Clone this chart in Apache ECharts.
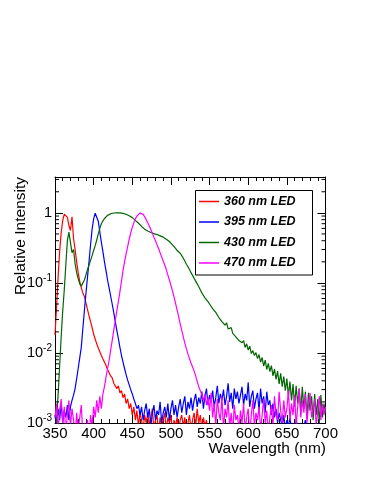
<!DOCTYPE html>
<html><head><meta charset="utf-8">
<script src="https://cdn.jsdelivr.net/npm/echarts@6/dist/echarts.min.js"></script>
<style>html,body{margin:0;padding:0;background:#fff}#c{width:374px;height:484px}</style>
</head><body><div id="c"></div>
<script>
const wavelengths = [
350,352,354,356,358,360,362,364,366,368,
370,372,374,376,378,380,382,384,386,388,
390,392,394,396,398,400,402,404,406,408,
410,412,414,416,418,420,422,424,426,428,
430,432,434,436,438,440,442,444,446,448,
450,452,454,456,458,460,462,464,466,468,
470,472,474,476,478,480,482,484,486,488,
490,492,494,496,498,500,502,504,506,508,
510,512,514,516,518,520,522,524,526,528,
530,532,534,536,538,540,542,544,546,548,
550,552,554,556,558,560,562,564,566,568,
570,572,574,576,578,580,582,584,586,588,
590,592,594,596,598,600,602,604,606,608,
610,612,614,616,618,620,622,624,626,628,
630,632,634,636,638,640,642,644,646,648,
650,652,654,656,658,660,662,664,666,668,
670,672,674,676,678,680,682,684,686,688,
690,692,694,696,698,700];

const int360 = [
0.018,0.045,0.12,0.28,0.52,0.78,0.96,1.0,0.86,0.66,
0.56,0.88,0.43,0.3,0.2,0.14,0.105,0.085,0.072,0.064,
0.052,0.042,0.034,0.028,0.023,0.0185,0.0158,0.0135,0.0118,0.0104,
0.0092,0.0082,0.0074,0.0066,0.0058,0.0056,0.0047,0.0044,0.0037,0.0039,
0.0031,0.0034,0.0027,0.0029,0.0023,0.0026,0.0019,0.0022,0.0016,0.0019,
0.0013,0.0017,0.0011,0.0015,0.0009,0.0014,0.0011,0.0008,0.0013,0.0010,
0.0014,0.0009,0.0012,0.0016,0.0008,0.0011,0.0013,0.0007,0.0012,0.0009,
0.0011,0.0014,0.0008,0.0012,0.0010,0.0013,0.0007,0.0011,0.0009,0.0012,
0.0008,0.0011,0.0013,0.0009,0.0012,0.0007,0.0010,0.0013,0.0008,0.0011,
0.0014,0.0009,0.0016,0.0010,0.0013,0.0008,0.0012,0.0009,0.0011,0.0007,
0.0009,0.0006,0.0010,0.0007,0.0005,0.0008,0.0006,0.0009,0.0005,0.0007,
0.0006,0.0008,0.0005,0.0009,0.0006,0.0004,0.0007,0.0005,0.0008,0.0006,
0.0005,0.0007,0.0004,0.0006,0.0008,0.0005,0.0006,0.0004,0.0007,0.0005,
0.0006,0.0004,0.0007,0.0005,0.0003,0.0006,0.0005,0.0007,0.0004,0.0006,
0.0005,0.0007,0.0004,0.0006,0.0005,0.0003,0.0006,0.0004,0.0005,0.0007,
0.0004,0.0006,0.0005,0.0003,0.0006,0.0004,0.0005,0.0007,0.0004,0.0005,
0.0006,0.0004,0.0005,0.0003,0.0006,0.0005,0.0004,0.0006,0.0003,0.0005,
0.0004,0.0006,0.0005,0.0003,0.0005,0.0004];

const int395 = [
0.0013,0.0009,0.0016,0.0011,0.0019,0.0010,0.0015,0.0012,0.0018,0.0011,
0.0017,0.0021,0.0025,0.0031,0.0043,0.006,0.0085,0.012,0.022,0.04,
0.07,0.12,0.2,0.35,0.58,0.82,0.99,0.95,0.76,0.53,
0.38,0.28,0.2,0.15,0.11,0.085,0.065,0.05,0.038,0.028,
0.021,0.016,0.012,0.0092,0.0074,0.006,0.0049,0.0041,0.0035,0.003,
0.0026,0.0022,0.0019,0.0016,0.0018,0.0013,0.0017,0.0011,0.0015,0.0019,
0.0012,0.0016,0.0009,0.0014,0.0018,0.0011,0.0015,0.0013,0.0020,0.0010,
0.0014,0.0017,0.0012,0.0019,0.0011,0.0016,0.0021,0.0013,0.0018,0.0012,
0.0017,0.0022,0.0014,0.0019,0.0024,0.0013,0.0020,0.0016,0.0023,0.0015,
0.0021,0.0026,0.0017,0.0023,0.0019,0.0028,0.0016,0.0024,0.0031,0.0018,
0.0025,0.0020,0.0029,0.0017,0.0023,0.0034,0.0019,0.0026,0.0021,0.0030,
0.0018,0.0024,0.0037,0.0020,0.0027,0.0016,0.0031,0.0022,0.0028,0.0019,
0.0025,0.0033,0.0018,0.0026,0.0021,0.0038,0.0017,0.0024,0.0029,0.0016,
0.0022,0.0027,0.0015,0.0031,0.0019,0.0024,0.0014,0.0028,0.0018,0.0021,
0.0013,0.0019,0.0012,0.0016,0.0010,0.0014,0.0011,0.0009,0.0013,0.0008,
0.0011,0.0009,0.0012,0.0008,0.0010,0.0007,0.0011,0.0009,0.0008,0.0010,
0.0007,0.0009,0.0011,0.0008,0.0006,0.0010,0.0008,0.0007,0.0009,0.0006,
0.0008,0.0010,0.0007,0.0009,0.0006,0.0008];

const int430 = [
0.0006,0.0011,0.0025,0.0065,0.017,0.04,0.08,0.18,0.4,0.53,
0.5,0.27,0.3,0.19,0.14,0.115,0.097,0.09,0.095,0.11,
0.13,0.155,0.18,0.21,0.245,0.29,0.34,0.41,0.5,0.6,
0.7,0.77,0.83,0.88,0.92,0.95,0.97,0.985,0.995,1.0,
1.0,1.0,1.0,0.995,0.985,0.97,0.955,0.935,0.91,0.885,
0.855,0.82,0.78,0.745,0.71,0.675,0.64,0.61,0.585,0.565,
0.55,0.54,0.525,0.515,0.505,0.495,0.49,0.48,0.47,0.46,
0.45,0.435,0.42,0.405,0.39,0.37,0.35,0.33,0.31,0.29,
0.28,0.265,0.245,0.225,0.205,0.185,0.17,0.155,0.14,0.128,
0.116,0.106,0.097,0.088,0.08,0.072,0.068,0.061,0.058,0.054,
0.05,0.047,0.043,0.041,0.038,0.036,0.032,0.031,0.028,0.029,
0.025,0.027,0.022,0.021,0.023,0.019,0.02,0.017,0.018,0.015,
0.016,0.014,0.015,0.012,0.0135,0.011,0.0125,0.0098,0.0108,0.0092,
0.0101,0.0083,0.0095,0.0074,0.0086,0.0065,0.0079,0.0058,0.0071,0.0054,
0.0066,0.0047,0.0059,0.0042,0.0055,0.0036,0.0051,0.0033,0.0046,0.0029,
0.0043,0.0024,0.0039,0.0021,0.0036,0.0017,0.0034,0.0019,0.0031,0.0014,
0.0033,0.0016,0.0028,0.0012,0.0027,0.0015,0.0024,0.0011,0.0026,0.0013,
0.0022,0.0010,0.0025,0.0012,0.0019,0.0014];

const int470 = [
0.0012,0.0019,0.0008,0.0015,0.0022,0.0010,0.0017,0.0007,0.0013,0.0021,
0.0009,0.0016,0.0011,0.0006,0.0014,0.0008,0.0012,0.0018,0.0007,0.0010,
0.0008,0.0011,0.0006,0.0013,0.0009,0.0017,0.0012,0.0021,0.0014,0.0024,
0.0016,0.0026,0.0033,0.0045,0.006,0.0078,0.011,0.015,0.021,0.029,
0.04,0.054,0.075,0.105,0.15,0.2,0.26,0.33,0.42,0.52,
0.62,0.72,0.82,0.9,0.96,0.995,0.99,0.95,0.88,0.8,
0.72,0.65,0.58,0.51,0.45,0.4,0.35,0.31,0.27,0.235,
0.205,0.18,0.155,0.13,0.11,0.092,0.077,0.063,0.051,0.041,
0.033,0.026,0.021,0.017,0.0138,0.0115,0.0097,0.0083,0.0072,0.0063,
0.0055,0.0047,0.0039,0.0033,0.0029,0.0025,0.0021,0.0026,0.0018,0.0023,
0.0015,0.0027,0.0012,0.0019,0.0009,0.0022,0.0014,0.0011,0.0024,0.0008,
0.0016,0.0012,0.0021,0.0009,0.0014,0.0007,0.0018,0.0011,0.0013,0.0008,
0.0015,0.0010,0.0019,0.0008,0.0012,0.0016,0.0007,0.0013,0.0021,0.0009,
0.0014,0.0011,0.0017,0.0008,0.0013,0.0022,0.0010,0.0015,0.0007,0.0012,
0.0018,0.0009,0.0024,0.0013,0.0011,0.0028,0.0015,0.0010,0.0021,0.0012,
0.0016,0.0029,0.0011,0.0019,0.0013,0.0025,0.0009,0.0017,0.0031,0.0012,
0.0021,0.0014,0.0026,0.0010,0.0018,0.0027,0.0012,0.0016,0.0022,0.0009,
0.0015,0.0024,0.0011,0.0019,0.0013,0.0017];

const seriesNames = ['360 nm LED', '395 nm LED', '430 nm LED', '470 nm LED'];
const seriesValues = [int360, int395, int430, int470];
const seriesColors = ['#ff0000', '#0000ff', '#006600', '#ff00ff'];
const xMin = 350, xMax = 700, xStep = 50;
const yMin = 0.001, yMax = 3.25;
const yMinorTicks = [0.002,0.003,0.004,0.005,0.006,0.007,0.008,0.009,
  0.02,0.03,0.04,0.05,0.06,0.07,0.08,0.09,
  0.2,0.3,0.4,0.5,0.6,0.7,0.8,0.9, 2, 3];

const FONT = 'Liberation Sans';
const chart = echarts.init(document.getElementById('c'), null, {renderer: 'canvas'});

function yLabel(v) {
  const l = Math.log10(v);
  const e = Math.round(l);
  if (Math.abs(l - e) > 1e-6) return '';
  return e === 0 ? '1' : '10{s|' + e + '}';
}

const lineSeries = seriesNames.map((name, k) => ({
  name: name,
  type: 'line',
  xAxisIndex: 0, yAxisIndex: 0,
  data: wavelengths.map((w, i) => [w, seriesValues[k][i]]),
  symbol: 'none',
  showSymbol: false,
  clip: true,
  lineStyle: {width: 1.2, color: seriesColors[k]},
  itemStyle: {color: seriesColors[k]},
  emphasis: {disabled: true},
  z: 2 + k
}));

const tickSeries = {
  type: 'custom',
  name: 'yminor',
  xAxisIndex: 0, yAxisIndex: 0,
  silent: true,
  clip: false,
  z: 10,
  data: yMinorTicks.map(v => [xMin, v]),
  renderItem: function (params, api) {
    const v = api.value(1);
    const pl = api.coord([xMin, v]);
    const pr = api.coord([xMax, v]);
    return {type: 'group', children: [
      {type: 'line', shape: {x1: pl[0], y1: pl[1], x2: pl[0] + 4, y2: pl[1]}, style: {stroke: '#000', lineWidth: 1}},
      {type: 'line', shape: {x1: pr[0], y1: pr[1], x2: pr[0] - 4, y2: pr[1]}, style: {stroke: '#000', lineWidth: 1}}
    ]};
  }
};

const axisLine = {show: true, lineStyle: {color: '#000', width: 1}};
const xAxisBase = {
  type: 'value', min: xMin, max: xMax, interval: xStep,
  axisLine: axisLine,
  axisTick: {show: true, inside: true, length: 8, lineStyle: {color: '#000', width: 1}},
  minorTick: {show: true, splitNumber: 5, length: 4, lineStyle: {color: '#000', width: 1}},
  splitLine: {show: false}, minorSplitLine: {show: false}
};
const yAxisBase = {
  type: 'log', logBase: 10, min: yMin, max: yMax,
  axisLine: axisLine,
  axisTick: {show: true, inside: true, length: 8, lineStyle: {color: '#000', width: 1}},
  splitLine: {show: false}
};

chart.setOption({
  animation: false,
  backgroundColor: '#fff',
  grid: {left: 55, right: 48.5, top: 177, bottom: 61, containLabel: false},
  xAxis: [
    Object.assign({}, xAxisBase, {position: 'bottom',
      axisLabel: {show: true, margin: 3, color: '#000', fontSize: 15, fontFamily: FONT,
        showMinLabel: true, showMaxLabel: true}}),
    Object.assign({}, xAxisBase, {position: 'top', axisLabel: {show: false}})
  ],
  yAxis: [
    Object.assign({}, yAxisBase, {position: 'left',
      axisLabel: {show: true, margin: 3, color: '#000', fontSize: 14.5, fontFamily: FONT,
        formatter: yLabel,
        rich: {s: {fontSize: 10, fontFamily: FONT, color: '#000', padding: [0, 0, 9, 0]}}}}),
    Object.assign({}, yAxisBase, {position: 'right', axisLabel: {show: false}})
  ],
  legend: {
    data: seriesNames,
    orient: 'vertical',
    left: 199, top: 194.5,
    icon: 'rect',
    itemWidth: 20, itemHeight: 1.5, itemGap: 6.5,
    padding: 0,
    z: 80,
    selectedMode: false,
    textStyle: {fontSize: 12.5, lineHeight: 14, fontWeight: 'bold', fontStyle: 'italic', fontFamily: FONT, color: '#000'}
  },
  graphic: [
    {type: 'rect', shape: {x: 195.5, y: 190.5, width: 117, height: 84.5},
      style: {fill: '#fff', stroke: '#000', lineWidth: 1}, z: 20, silent: true},
    {type: 'text', x: 21, y: 177, rotation: Math.PI / 2,
      style: {text: 'Relative Intensity', fontSize: 15.5, fontFamily: FONT, fill: '#000', align: 'right', verticalAlign: 'middle'}},
    {type: 'text', x: 326, y: 449,
      style: {text: 'Wavelength (nm)', fontSize: 15.5, fontFamily: FONT, fill: '#000', align: 'right', verticalAlign: 'middle'}}
  ],
  series: lineSeries.concat([tickSeries])
});
</script></body></html>
